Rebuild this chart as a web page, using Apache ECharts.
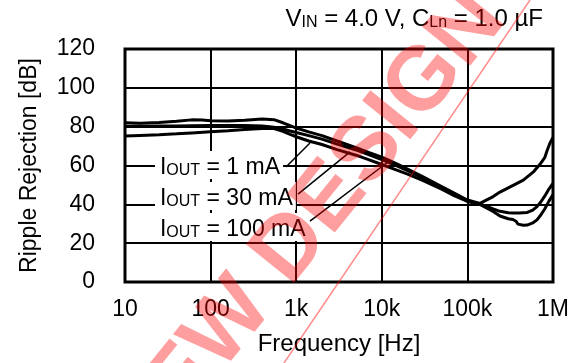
<!DOCTYPE html>
<html><head><meta charset="utf-8">
<script src="https://cdn.jsdelivr.net/npm/echarts@6/dist/echarts.min.js"></script>
<style>html,body{margin:0;padding:0;background:#fff}#c{width:581px;height:363px}</style>
</head><body><div id="c"></div>
<script>
// ---- data ----
const xTicks = [10, 100, 1000, 10000, 100000, 1000000];
const xTickLabels = ['10', '100', '1k', '10k', '100k', '1M'];
const yTicks = [0, 20, 40, 60, 80, 100, 120];
const seriesNames = ['IOUT = 1 mA', 'IOUT = 30 mA', 'IOUT = 100 mA'];

const freq1 = [10,15,25,40,60,100,160,250,400,550,700,850,1000,1400,2000,3000,5000,7000,10000,15000,20000,30000,50000,70000,100000,140000,200000,240000,300000,340000,370000,390000,450000,500000,580000,650000,720000,800000,900000,1000000];
const db1   = [75.2,75.5,75.8,76.3,76.8,77.4,77.9,78.5,79.0,79.0,77.6,76.0,74.8,72.6,70.8,68.2,65.3,63.0,60.5,57.6,55.6,52.3,47.8,44.5,41.5,40.0,36.3,34.0,32.6,32.2,31.3,29.8,29.2,29.3,30.4,32.0,34.5,37.6,41.8,45.0];

const freq2 = [10,15,25,40,60,100,160,250,400,550,700,850,1000,1400,2000,3000,5000,7000,10000,15000,20000,30000,50000,70000,100000,140000,200000,240000,300000,340000,400000,500000,580000,650000,720000,800000,900000,1000000];
const db2   = [80.2,80.2,80.3,80.4,80.5,80.6,80.6,80.6,80.3,79.7,78.8,77.8,77.0,75.4,73.6,71.0,68.0,65.6,63.0,59.8,57.4,53.6,48.6,45.2,41.8,40.2,37.6,36.4,35.7,35.5,35.5,35.8,37.0,38.8,41.2,44.2,48.0,50.8];

const freq3 = [10,15,25,40,60,80,100,160,250,400,550,700,850,1000,1400,2000,3000,5000,7000,10000,15000,20000,30000,50000,70000,100000,140000,200000,240000,300000,450000,600000,700000,800000,850000,920000,1000000];
const db3   = [82.0,81.8,82.1,82.8,83.5,83.4,83.0,82.9,83.3,84.0,83.6,82.0,80.5,79.3,77.3,75.4,72.6,69.2,66.8,64.3,60.8,58.2,54.3,49.2,45.8,42.2,40.5,44.0,46.3,48.5,52.5,57.0,60.5,64.0,67.5,71.5,74.5];

// annotation anchors (data units: [Hz, dB])
const annLabelAnchor = [[22.4, 60.3], [22.4, 44.3], [22.4, 28.3]];
const annLeaderFrom  = [[760, 59.2], [1050, 45.3], [1449, 31.4]];
const annLeaderTo    = [[1449, 71.6], [4256, 67.0], [11800, 61.8]];
const annCurrents    = ['1 mA', '30 mA', '100 mA'];

// ---- chart ----
const chart = echarts.init(document.getElementById('c'), null, {renderer: 'canvas'});
const FONT = '"Liberation Sans", Arial, sans-serif';

function mk(name, f, d) {
  return {
    name: name, type: 'line', showSymbol: false, symbol: 'none', smooth: false,
    data: f.map((x, i) => [x, d[i]]),
    lineStyle: {color: '#000', width: 3}, z: 5, animation: false
  };
}

const option = {
  animation: false,
  backgroundColor: '#fff',
  grid: {left: 125, right: 28, top: 49, bottom: 81, show: true, borderColor: '#000', borderWidth: 3, backgroundColor: 'transparent'},
  xAxis: {
    type: 'log', logBase: 10, min: xTicks[0], max: xTicks[xTicks.length - 1],
    name: 'Frequency [Hz]', nameLocation: 'middle', nameGap: 50,
    nameTextStyle: {fontFamily: FONT, fontSize: 24, color: '#000'},
    axisLine: {show: false}, axisTick: {show: false},
    splitLine: {show: true, lineStyle: {color: '#000', width: 2}},
    minorSplitLine: {show: false},
    axisLabel: {
      fontFamily: FONT, fontSize: 23, color: '#000', margin: 16,
      formatter: function (v) {
        for (let i = 0; i < xTicks.length; i++) if (Math.abs(Math.log10(v) - Math.log10(xTicks[i])) < 1e-6) return xTickLabels[i];
        return '';
      }
    }
  },
  yAxis: {
    type: 'value', min: yTicks[0], max: yTicks[yTicks.length - 1], interval: 20,
    name: 'Ripple Rejection [dB]', nameLocation: 'middle', nameGap: 84, nameRotate: 90,
    nameTextStyle: {fontFamily: FONT, fontSize: 23, color: '#000'},
    axisLine: {show: false}, axisTick: {show: false},
    splitLine: {show: true, lineStyle: {color: '#000', width: 2}},
    axisLabel: {fontFamily: FONT, fontSize: 23, color: '#000', margin: 30}
  },
  series: [mk(seriesNames[0], freq1, db1), mk(seriesNames[1], freq2, db2), mk(seriesNames[2], freq3, db3)]
};
chart.setOption(option);

function px(p) { return chart.convertToPixel({gridIndex: 0}, p); }

const graphics = [];
// Title
graphics.push({
  type: 'text', right: 38, top: 7, z: 60,
  style: {
    text: '{t|V}{s|IN}{t| = 4.0 V, C}{s|Ln}{t| = 1.0 µF}',
    rich: {
      t: {fontFamily: FONT, fontSize: 24, color: '#000', lineHeight: 26, verticalAlign: 'bottom'},
      s: {fontFamily: FONT, fontSize: 16, color: '#000', lineHeight: 14, verticalAlign: 'bottom'}
    }
  }
});
// annotation labels + leaders
for (let i = 0; i < annCurrents.length; i++) {
  const a = px(annLabelAnchor[i]);
  const f = px(annLeaderFrom[i]);
  const t = px(annLeaderTo[i]);
  graphics.push({
    type: 'line', z: 40,
    shape: {x1: f[0], y1: f[1], x2: t[0], y2: t[1]},
    style: {stroke: '#000', lineWidth: 1.5}
  });
  graphics.push({
    type: 'text', x: a[0], y: a[1], z: 41,
    style: {
      text: '{b|I}{c|OUT}{b| = ' + annCurrents[i] + '}',
      backgroundColor: '#fff', padding: [2, 3, 0, 5],
      verticalAlign: 'middle', align: 'left',
      rich: {
        b: {fontFamily: FONT, fontSize: 23, color: '#000', lineHeight: 26, verticalAlign: 'bottom'},
        c: {fontFamily: FONT, fontSize: 16, color: '#000', lineHeight: 20, verticalAlign: 'bottom'}
      }
    }
  });
}
// watermark
const ang = 51 * Math.PI / 180;
graphics.push({
  type: 'text', x: 488, y: 4, rotation: ang, z: 100, silent: true,
  style: {
    text: 'NOT RECOMMENDED FOR NEW DESIGN',
    fontFamily: FONT, fontWeight: 'bold', fontSize: 90,
    fill: 'rgba(255,0,0,0.38)', align: 'right', verticalAlign: 'middle'
  }
});
graphics.push({
  type: 'line', z: 100, silent: true,
  shape: {x1: 284, y1: 363, x2: 530, y2: 0},
  style: {stroke: 'rgba(255,0,0,0.45)', lineWidth: 1.5}
});
chart.setOption({graphic: graphics});
</script>
</body></html>
